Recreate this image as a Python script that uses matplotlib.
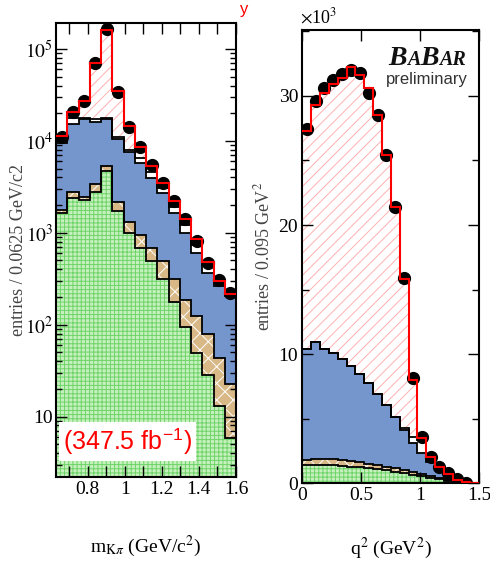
import numpy as np
import matplotlib
matplotlib.use("Agg")
import matplotlib.pyplot as plt
from matplotlib.ticker import FixedLocator, FixedFormatter, NullFormatter, LogLocator
from matplotlib.offsetbox import TextArea, HPacker, VPacker, AnnotationBbox

plt.rcParams['font.family'] = ['Liberation Serif', 'DejaVu Serif']
plt.rcParams['mathtext.fontset'] = 'stix'
plt.rcParams['hatch.linewidth'] = 0.7

# ---------------- left panel: m(K pi) ----------------
m_edges = np.linspace(0.63, 1.6, 17)
m_green = [1640, 2380, 2290, 2810, 4750, 1710, 990, 680, 490, 316, 176, 94, 49, 28, 12.9, 5.9]
m_brown = [140, 430, 190, 600, 640, 460, 330, 260, 192, 172, 140, 93, 76, 52, 31, 17]
m_blue = [7820, 12490, 14720, 12790, 12110, 8330, 6330, 4790, 3248, 2212, 1324, 806, 476, 285, 217, 180]
m_white = [1400, 2500, 400, 1000, 400, 500, 330, 770, 700, 380, 290, 227, 140, 84, 26, 10]
m_signal = [300, 2700, 9900, 53800, 143100, 23500, 6520, 2000, 770, 370, 270, 180, 109, 31, 13, 5]
m_data = [11000, 20700, 27000, 70500, 165000, 34000, 14200, 8600, 5500, 3500, 2200, 1420, 820, 470, 308, 223]

# ---------------- right panel: q^2 (x 10^3) ----------------
q_edges = np.linspace(0.0, 1.5, 21)
q_green = [1.40, 1.42, 1.40, 1.38, 1.35, 1.30, 1.25, 1.18, 1.10, 1.00, 0.90, 0.80, 0.68, 0.55, 0.42, 0.30, 0.20, 0.10, 0.03, 0]
q_brown = [0.40, 0.50, 0.50, 0.47, 0.45, 0.42, 0.37, 0.34, 0.32, 0.30, 0.28, 0.25, 0.22, 0.20, 0.16, 0.12, 0.08, 0.05, 0.02, 0]
q_blue = [8.59, 9.01, 8.51, 8.23, 7.81, 7.37, 6.83, 6.23, 5.48, 4.77, 3.94, 3.08, 2.20, 1.62, 1.09, 0.61, 0.23, 0.05, 0.0, 0]
q_white = [0, 0, 0, 0, 0, 0, 0, 0, 0, 0, 0, 0.17, 0.5, 1.0, 0.28, 0.17, 0.14, 0.04, 0.0, 0]
q_signal = [16.87, 18.37, 19.79, 20.82, 21.79, 23.11, 23.2, 22.85, 21.65, 19.33, 16.28, 11.5, 4.4, 0.12, 0.11, 0.09, 0.07, 0.02, 0.03, 0]
q_data = [27.4, 29.6, 30.6, 31.2, 31.7, 32.0, 31.8, 30.2, 28.5, 25.4, 21.4, 15.9, 8.14, 3.61, 2.06, 1.3, 0.8, 0.35, 0.03]

GREEN_FACE = '#c6f0bd'
GREEN_HATCH = '#6fd46a'
BROWN_FACE = '#d8b886'
BLUE = '#7595cd'
RED_HATCH = '#ffb0b0'

fig = plt.figure(figsize=(4.9, 5.63), dpi=100)
W, H = 490.0, 563.0
axL = fig.add_axes([56 / W, 1 - 477 / H, 180 / W, 454 / H])
axR = fig.add_axes([302.3 / W, 1 - 483.3 / H, 177 / W, 453.3 / H])


def draw_stack(ax, edges, comps, data, base):
    g, b, bl, wh, sig = [np.asarray(c, float) for c in comps]
    t1 = g
    t2 = t1 + b
    t3 = t2 + bl
    t4 = t3 + wh
    t5 = t4 + sig
    base_arr = np.full_like(g, base)
    ax.stairs(t1, edges, baseline=base_arr, fill=True, facecolor=GREEN_FACE,
              edgecolor=GREEN_HATCH, hatch='++++', linewidth=0, zorder=1)
    ax.stairs(t2, edges, baseline=t1, fill=True, facecolor=BROWN_FACE,
              edgecolor='white', hatch='xx', linewidth=0, zorder=1)
    ax.stairs(t3, edges, baseline=t2, fill=True, facecolor=BLUE,
              edgecolor=BLUE, linewidth=0, zorder=1)
    ax.stairs(t4, edges, baseline=t3, fill=True, facecolor='white',
              linewidth=0, zorder=1)
    ax.stairs(t5, edges, baseline=t4, fill=True, facecolor='white',
              edgecolor=RED_HATCH, hatch='///', linewidth=0, zorder=1)
    for t in (t1, t2, t3, t4):
        ax.stairs(t, edges, baseline=None, color='black', linewidth=1.3, zorder=2)
    centers = 0.5 * (edges[:-1] + edges[1:])
    ax.plot(centers[:len(data)], data, 'o', color='black', markersize=8.5, zorder=3)
    ax.stairs(t5, edges, baseline=None, color='red', linewidth=1.5, zorder=4)


draw_stack(axL, m_edges, [m_green, m_brown, m_blue, m_white, m_signal], m_data, 1.0)
draw_stack(axR, q_edges, [q_green, q_brown, q_blue, q_white, q_signal], q_data, 0.0)

# ---- left axes formatting
axL.set_yscale('log')
axL.set_xlim(0.63, 1.6)
axL.set_ylim(2.2, 1.92e5)
axL.yaxis.set_major_locator(FixedLocator([10, 100, 1000, 1e4, 1e5]))
axL.yaxis.set_major_formatter(FixedFormatter(['10', r'$10^2$', r'$10^3$', r'$10^4$', r'$10^5$']))
axL.yaxis.set_minor_locator(LogLocator(base=10, subs=np.arange(2, 10), numticks=20))
axL.yaxis.set_minor_formatter(NullFormatter())
axL.xaxis.set_major_locator(FixedLocator([0.8, 1.0, 1.2, 1.4, 1.6]))
axL.xaxis.set_major_formatter(FixedFormatter(['0.8', '1', '1.2', '1.4', '1.6']))
axL.xaxis.set_minor_locator(FixedLocator([0.7, 0.9, 1.1, 1.3, 1.5]))
axL.tick_params(axis='both', which='both', direction='in', top=True, right=True,
                labelsize=14, width=1.0)
axL.tick_params(axis='y', which='major', length=8, pad=2)
axL.tick_params(axis='y', which='minor', length=4)
axL.tick_params(axis='x', which='both', length=8, pad=3)
axL.set_ylabel('entries / 0.0625 GeV/c2', fontsize=13, color='#444444')
axL.yaxis.set_label_coords(-0.16, 0.5)
axL.set_xlabel(r'm$_{\mathrm{K}\pi}$ (GeV/c$^{2}$)', fontsize=14)
axL.xaxis.set_label_coords(0.5, -0.126)
axL.text(0.04, 0.078, r'(347.5 fb$^{\mathregular{-1}}$)', transform=axL.transAxes,
         color='red', fontsize=18, family=['Liberation Sans', 'DejaVu Sans'],
         ha='left', va='center',
         bbox=dict(facecolor='white', edgecolor='none', pad=3), zorder=6)

# ---- right axes formatting
axR.set_xlim(0, 1.5)
axR.set_ylim(0, 35.1)
axR.xaxis.set_major_locator(FixedLocator([0, 0.5, 1.0, 1.5]))
axR.xaxis.set_major_formatter(FixedFormatter(['0', '0.5', '1', '1.5']))
axR.yaxis.set_major_locator(FixedLocator([0, 10, 20, 30]))
axR.yaxis.set_minor_locator(FixedLocator([5, 15, 25, 35]))
axR.yaxis.set_minor_formatter(NullFormatter())
axR.tick_params(axis='both', which='both', direction='in', top=True, right=True,
                labelsize=14, width=1.0)
axR.tick_params(axis='both', which='major', length=8, pad=3)
axR.tick_params(axis='both', which='minor', length=5)
axR.set_ylabel(r'entries / 0.095 GeV$^{2}$', fontsize=13, color='#444444')
axR.yaxis.set_label_coords(-0.165, 0.5)
axR.set_xlabel(r'q$^{2}$ (GeV$^{2}$)', fontsize=14)
axR.xaxis.set_label_coords(0.5, -0.116)

for ax in (axL, axR):
    for s in ax.spines.values():
        s.set_linewidth(1.5)

fig.text(300 / W, 1 - 27 / H, r'$\times$10$^{3}$', fontsize=13, ha='left', va='bottom')

# BABAR preliminary logo
bprops_big = dict(size=20, family='Liberation Serif', style='italic', weight='bold', color='#111111')
bprops_small = dict(size=14.5, family='Liberation Serif', style='italic', weight='bold', color='#111111')
babar = HPacker(children=[TextArea('B', textprops=bprops_big), TextArea('A', textprops=bprops_small),
                          TextArea('B', textprops=bprops_big), TextArea('AR', textprops=bprops_small)],
                align='baseline', pad=0, sep=0)
prelim = TextArea('preliminary', textprops=dict(size=12, family='Liberation Sans', color='#333333'))
logo = VPacker(children=[babar, prelim], align='center', pad=0, sep=1)
ab = AnnotationBbox(logo, (0.935, 0.965), xycoords='axes fraction', box_alignment=(1, 1),
                    frameon=False, pad=0)
axR.add_artist(ab)

# small red title fragment at top
fig.text(240 / W, 1 - 2 / H, 'y', color='red', fontsize=12, ha='left', va='top',
         family=['Liberation Sans', 'DejaVu Sans'])

fig.savefig('out.png', dpi=100)
